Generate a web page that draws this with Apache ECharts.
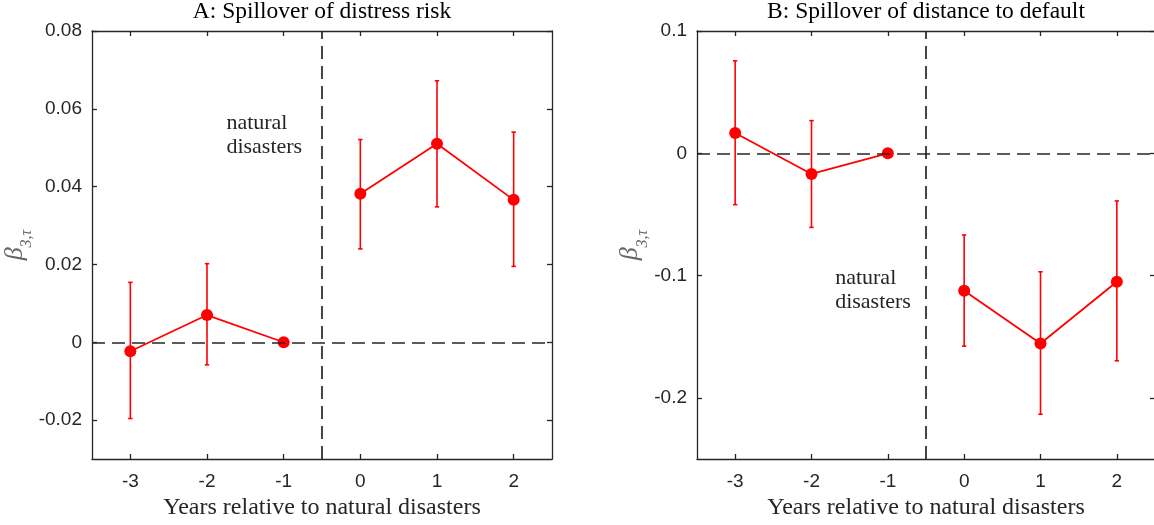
<!DOCTYPE html>
<html><head><meta charset="utf-8">
<script src="https://cdn.jsdelivr.net/npm/echarts@6/dist/echarts.min.js"></script>
<style>html,body{margin:0;padding:0;background:#fff}#c{width:1154px;height:525px}</style>
</head><body><div id="c"></div>
<script>
// ---------- data ----------
const years = [-3, -2, -1, 0, 1, 2];
const xTicks = [-3, -2, -1, 0, 1, 2];
const xRange = [-3.5, 2.5];
const eventLine = -0.5;
const xName = 'Years relative to natural disasters';
const annoText = 'natural\ndisasters';

const aTitle = 'A: Spillover of distress risk';
const aCoef  = [-0.0023, 0.0070, 0.0000, 0.0382, 0.0510, 0.0366];
const aLower = [-0.0196, -0.0058, null, 0.0240, 0.0348, 0.0195];
const aUpper = [0.0154, 0.0202, null, 0.0521, 0.0672, 0.0540];
const aYTicks = [-0.02, 0, 0.02, 0.04, 0.06, 0.08];
const aYRange = [-0.03, 0.08];
const aAnno = [-1.747, 0.0595];

const bTitle = 'B: Spillover of distance to default';
const bCoef  = [0.0166, -0.0169, 0.0000, -0.1124, -0.1555, -0.1050];
const bLower = [-0.0420, -0.0606, null, -0.1577, -0.2134, -0.1697];
const bUpper = [0.0756, 0.0267, null, -0.0668, -0.0969, -0.0390];
const bYTicks = [-0.2, -0.1, 0, 0.1];
const bYRange = [-0.25, 0.1];
const bAnno = [-1.69, -0.092];

// ---------- styles ----------
const AX = '#262626';
const RED = '#ff0000';
const SERIF = '"Liberation Serif", "Times New Roman", serif';
const SANS = '"Liberation Sans", Arial, sans-serif';

const chart = echarts.init(document.getElementById('c'), null, {renderer: 'canvas'});

const grids = [
  {left: 92, top: 31, width: 460, height: 428, containLabel: false, outerBoundsMode: 'none'},
  {left: 697, top: 31, width: 458, height: 428, containLabel: false, outerBoundsMode: 'none'}
];

const xAxes = [], yAxes = [], series = [];

function panel(gi, title, coef, lower, upper, yTicks, yRange, anno, yNameGap) {
  const lineSt = {color: AX, width: 1.3};
  xAxes.push({
    type: 'value', gridIndex: gi, position: 'bottom', min: xRange[0], max: xRange[1],
    name: xName, nameLocation: 'middle', nameGap: 37,
    nameTextStyle: {fontFamily: SERIF, fontSize: 24, color: AX},
    axisLine: {onZero: false, lineStyle: lineSt},
    axisTick: {inside: true, length: 5, lineStyle: lineSt, customValues: xTicks},
    axisLabel: {color: AX, fontFamily: SANS, fontSize: 19, margin: 13, customValues: xTicks},
    splitLine: {show: false}
  });
  xAxes.push({
    type: 'value', gridIndex: gi, position: 'top', min: xRange[0], max: xRange[1],
    name: title, nameLocation: 'middle', nameGap: 7,
    nameTextStyle: {fontFamily: SERIF, fontSize: 23.5, color: '#000'},
    axisLine: {onZero: false, lineStyle: lineSt},
    axisTick: {inside: true, length: 5, lineStyle: lineSt, customValues: xTicks},
    axisLabel: {show: false},
    splitLine: {show: false}
  });
  yAxes.push({
    type: 'value', gridIndex: gi, position: 'left', min: yRange[0], max: yRange[1],
    name: '{b|β}{s|3,τ}', nameLocation: 'middle', nameGap: yNameGap, nameRotate: 90,
    nameTextStyle: {
      rich: {
        b: {fontFamily: SERIF, fontStyle: 'italic', fontSize: 26, color: '#666', verticalAlign: 'bottom'},
        s: {fontFamily: SERIF, fontStyle: 'italic', fontSize: 16, color: '#666', verticalAlign: 'bottom', padding: [0, 0, -7, 0]}
      }
    },
    axisLine: {onZero: false, lineStyle: lineSt},
    axisTick: {inside: true, length: 5, lineStyle: lineSt, customValues: yTicks},
    axisLabel: {color: AX, fontFamily: SANS, fontSize: 19, margin: 10, customValues: yTicks},
    splitLine: {show: false}
  });
  yAxes.push({
    type: 'value', gridIndex: gi, position: 'right', min: yRange[0], max: yRange[1],
    axisLine: {onZero: false, lineStyle: lineSt},
    axisTick: {inside: true, length: 5, lineStyle: lineSt, customValues: yTicks},
    axisLabel: {show: false},
    splitLine: {show: false}
  });
  const xi = gi * 2, yi = gi * 2;
  series.push({
    type: 'line', xAxisIndex: xi, yAxisIndex: yi, data: [], silent: true, z: 1,
    markLine: {
      silent: true, symbol: ['none', 'none'], animation: false,
      label: {show: false},
      lineStyle: {color: AX, type: [13, 7], width: 1.7},
      emphasis: {disabled: true},
      data: [{yAxis: 0}, {xAxis: eventLine}]
    }
  });
  const eb = [];
  years.forEach((x, i) => { if (lower[i] != null) eb.push([x, lower[i], upper[i]]); });
  series.push({
    type: 'custom', xAxisIndex: xi, yAxisIndex: yi, z: 3, silent: true,
    data: eb,
    renderItem: function (params, api) {
      const x = api.value(0);
      const p1 = api.coord([x, api.value(2)]);
      const p2 = api.coord([x, api.value(1)]);
      const c = 2.2;
      const st = {stroke: RED, lineWidth: 1.6};
      return {type: 'group', children: [
        {type: 'line', shape: {x1: p1[0], y1: p1[1], x2: p2[0], y2: p2[1]}, style: st},
        {type: 'line', shape: {x1: p1[0] - c, y1: p1[1], x2: p1[0] + c, y2: p1[1]}, style: st},
        {type: 'line', shape: {x1: p2[0] - c, y1: p2[1], x2: p2[0] + c, y2: p2[1]}, style: st}
      ]};
    }
  });
  // coefficients: separate segments before and after the event
  const pts = years.map((x, i) => [x, coef[i]]);
  [pts.filter(p => p[0] < eventLine), pts.filter(p => p[0] > eventLine)].forEach(seg => {
    series.push({
      type: 'line', xAxisIndex: xi, yAxisIndex: yi, z: 4, silent: true,
      data: seg,
      symbol: 'circle', symbolSize: 12, showSymbol: true,
      itemStyle: {color: RED},
      lineStyle: {color: RED, width: 1.8}
    });
  });
  series.push({
    type: 'custom', xAxisIndex: xi, yAxisIndex: yi, z: 5, silent: true,
    data: [anno],
    renderItem: function (params, api) {
      const p = api.coord([api.value(0), api.value(1)]);
      return {type: 'text', x: p[0], y: p[1], style: {
        text: annoText, font: '22px ' + SERIF, fill: AX, align: 'left', verticalAlign: 'top', lineHeight: 24
      }};
    }
  });
}

panel(0, aTitle, aCoef, aLower, aUpper, aYTicks, aYRange, aAnno, 42);
panel(1, bTitle, bCoef, bLower, bUpper, bYTicks, bYRange, bAnno, 48);

chart.setOption({
  animation: false,
  backgroundColor: '#fff',
  grid: grids,
  xAxis: xAxes,
  yAxis: yAxes,
  series: series
});
</script>
</body></html>
